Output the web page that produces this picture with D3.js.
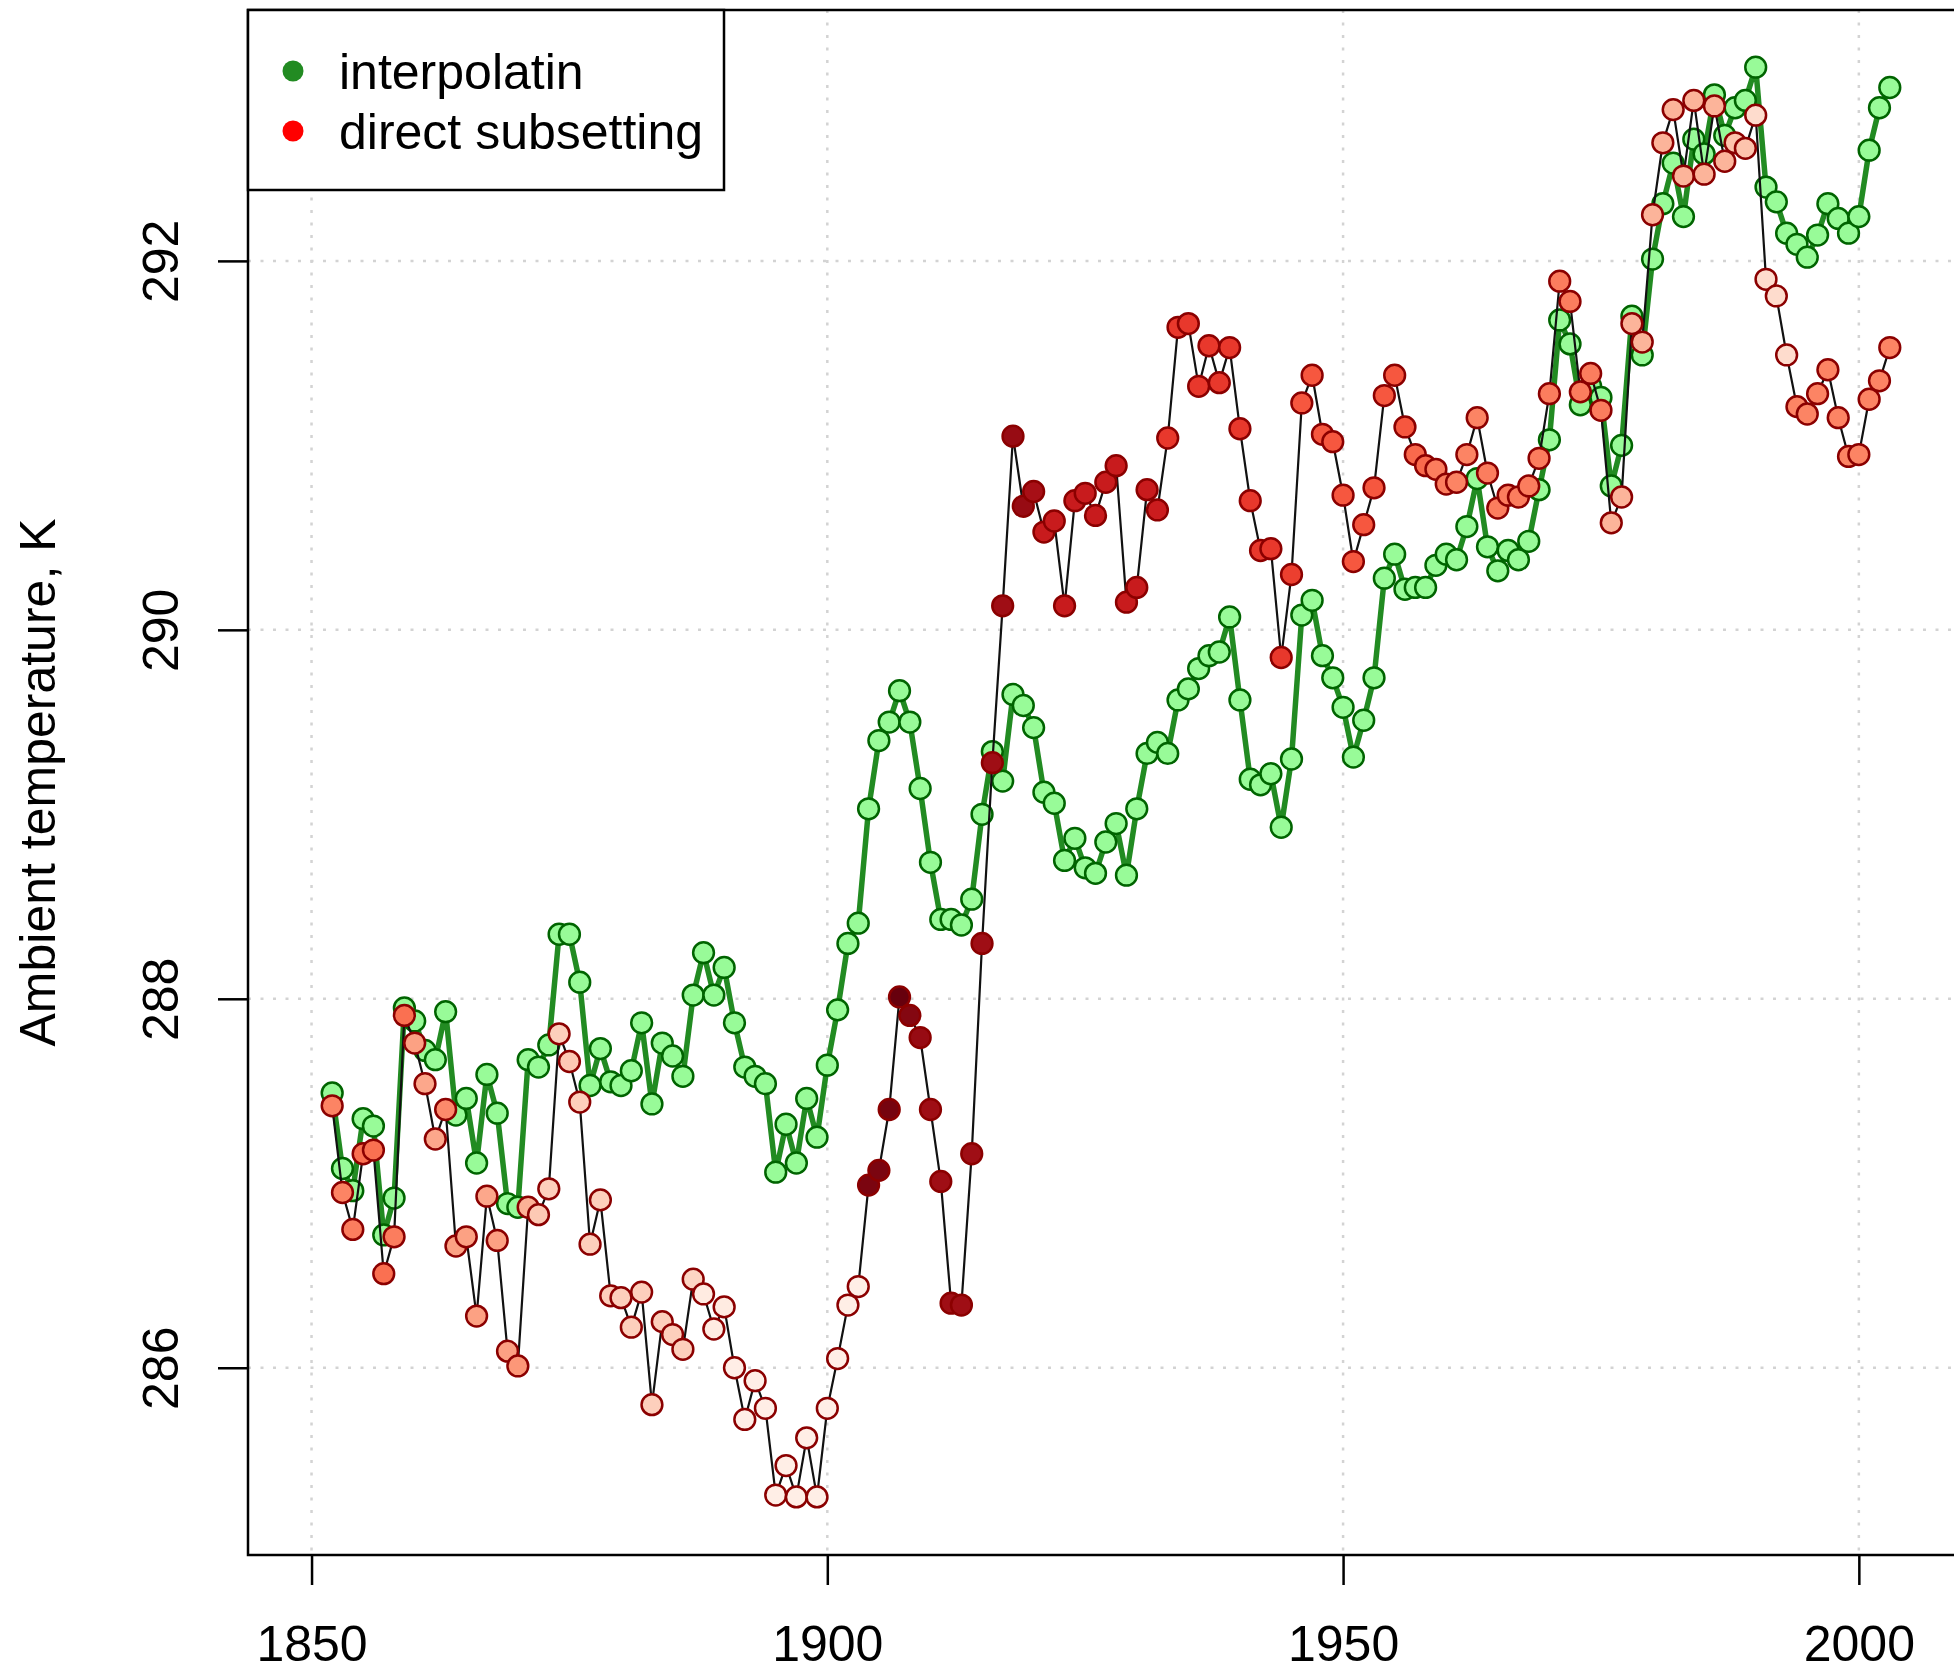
<!DOCTYPE html>
<html>
<head>
<meta charset="utf-8">
<script src="https://cdn.jsdelivr.net/npm/d3@7"></script>
<style>
  body { margin: 0; background: #fff; }
  svg { display: block; font-family: "Liberation Sans", Arial, Helvetica, sans-serif; }
</style>
</head>
<body>
<svg id="chart" width="1954" height="1671"></svg>
<script>
// years 1852..2003, rows: 1852-1859, then one decade per row
const years = [
    1852, 1853, 1854, 1855, 1856, 1857, 1858, 1859,
    1860, 1861, 1862, 1863, 1864, 1865, 1866, 1867, 1868, 1869,
    1870, 1871, 1872, 1873, 1874, 1875, 1876, 1877, 1878, 1879,
    1880, 1881, 1882, 1883, 1884, 1885, 1886, 1887, 1888, 1889,
    1890, 1891, 1892, 1893, 1894, 1895, 1896, 1897, 1898, 1899,
    1900, 1901, 1902, 1903, 1904, 1905, 1906, 1907, 1908, 1909,
    1910, 1911, 1912, 1913, 1914, 1915, 1916, 1917, 1918, 1919,
    1920, 1921, 1922, 1923, 1924, 1925, 1926, 1927, 1928, 1929,
    1930, 1931, 1932, 1933, 1934, 1935, 1936, 1937, 1938, 1939,
    1940, 1941, 1942, 1943, 1944, 1945, 1946, 1947, 1948, 1949,
    1950, 1951, 1952, 1953, 1954, 1955, 1956, 1957, 1958, 1959,
    1960, 1961, 1962, 1963, 1964, 1965, 1966, 1967, 1968, 1969,
    1970, 1971, 1972, 1973, 1974, 1975, 1976, 1977, 1978, 1979,
    1980, 1981, 1982, 1983, 1984, 1985, 1986, 1987, 1988, 1989,
    1990, 1991, 1992, 1993, 1994, 1995, 1996, 1997, 1998, 1999,
    2000, 2001, 2002, 2003
];

const interpolatin = [
    287.49, 287.08, 286.96, 287.35, 287.31, 286.72, 286.92, 287.95,
    287.88, 287.72, 287.67, 287.93, 287.37, 287.46, 287.11, 287.59, 287.38, 286.89,
    286.87, 287.67, 287.63, 287.75, 288.35, 288.35, 288.09, 287.53, 287.73, 287.55,
    287.53, 287.61, 287.87, 287.43, 287.76, 287.69, 287.58, 288.02, 288.25, 288.02,
    288.17, 287.87, 287.63, 287.58, 287.54, 287.06, 287.32, 287.11, 287.46, 287.25,
    287.64, 287.94, 288.30, 288.41, 289.03, 289.40, 289.50, 289.67, 289.50, 289.14,
    288.74, 288.43, 288.43, 288.40, 288.54, 289.00, 289.34, 289.18, 289.65, 289.59,
    289.47, 289.12, 289.06, 288.75, 288.87, 288.71, 288.68, 288.85, 288.95, 288.67,
    289.03, 289.33, 289.39, 289.33, 289.62, 289.68, 289.79, 289.86, 289.88, 290.07,
    289.62, 289.19, 289.16, 289.22, 288.93, 289.30, 290.08, 290.16, 289.86, 289.74,
    289.58, 289.31, 289.51, 289.74, 290.28, 290.41, 290.22, 290.23, 290.23, 290.35,
    290.41, 290.38, 290.56, 290.82, 290.45, 290.32, 290.43, 290.38, 290.48, 290.76,
    291.03, 291.68, 291.55, 291.22, 291.32, 291.26, 290.78, 291.00, 291.70, 291.49,
    292.01, 292.31, 292.53, 292.24, 292.66, 292.58, 292.90, 292.68, 292.83, 292.87,
    293.05, 292.40, 292.32, 292.15, 292.09, 292.02, 292.14, 292.31, 292.23, 292.15,
    292.24, 292.60, 292.83, 292.94
];

const directSubsetting = [
    287.42, 286.95, 286.75, 287.16, 287.18, 286.51, 286.71, 287.91,
    287.76, 287.54, 287.24, 287.40, 286.66, 286.71, 286.28, 286.93, 286.69, 286.09,
    286.01, 286.87, 286.83, 286.97, 287.81, 287.66, 287.44, 286.67, 286.91, 286.39,
    286.38, 286.22, 286.41, 285.80, 286.25, 286.18, 286.10, 286.48, 286.40, 286.21,
    286.33, 286.00, 285.72, 285.93, 285.78, 285.31, 285.47, 285.30, 285.62, 285.30,
    285.78, 286.05, 286.34, 286.44, 286.99, 287.07, 287.40, 288.01, 287.91, 287.79,
    287.40, 287.01, 286.35, 286.34, 287.16, 288.30, 289.28, 290.13, 291.05, 290.67,
    290.75, 290.53, 290.59, 290.13, 290.70, 290.74, 290.62, 290.80, 290.89, 290.15,
    290.23, 290.76, 290.65, 291.04, 291.64, 291.66, 291.32, 291.54, 291.34, 291.53,
    291.09, 290.70, 290.43, 290.44, 289.85, 290.30, 291.23, 291.38, 291.06, 291.02,
    290.73, 290.37, 290.57, 290.77, 291.27, 291.38, 291.10, 290.95, 290.89, 290.87,
    290.79, 290.80, 290.95, 291.15, 290.85, 290.66, 290.73, 290.72, 290.78, 290.93,
    291.28, 291.89, 291.78, 291.29, 291.39, 291.19, 290.58, 290.72, 291.66, 291.56,
    292.25, 292.64, 292.82, 292.46, 292.87, 292.47, 292.84, 292.54, 292.64, 292.61,
    292.79, 291.90, 291.81, 291.49, 291.21, 291.17, 291.28, 291.41, 291.15, 290.94,
    290.95, 291.25, 291.35, 291.53
];

// fill intensity of each "direct subsetting" point (0 = palest, 1 = darkest red)
const directShade = [
    .42, .42, .44, .48, .48, .48, .44, .48,
    .33, .31, .31, .40, .33, .33, .33, .31, .33, .33,
    .36, .28, .2, .18, .18, .2, .18, .18, .18, .18,
    .18, .18, .18, .18, .18, .18, .18, .16, .06, .06,
    .06, .04, .04, .04, .04, .04, .04, .04, .04, .04,
    .04, .04, .04, .04, .96, .96, .97, 1, .94, .9,
    .88, .88, .88, .88, .88, .88, .88, .88, .9, .9,
    .86, .76, .76, .76, .76, .76, .76, .76, .76, .76,
    .76, .76, .75, .64, .64, .64, .64, .64, .64, .64,
    .64, .64, .64, .64, .64, .62, .55, .55, .55, .55,
    .55, .55, .55, .55, .55, .55, .55, .5, .5, .44,
    .44, .42, .42, .42, .44, .44, .44, .44, .44, .44,
    .44, .44, .44, .44, .44, .44, .27, .27, .27, .27,
    .27, .27, .27, .27, .27, .27, .27, .27, .22, .22,
    .13, .13, .13, .13, .42, .42, .42, .42, .42, .42,
    .42, .42, .42, .42
];

const xTicks = [1850, 1900, 1950, 2000];
const yTicks = [286, 288, 290, 292];
const legendLabels = ["interpolatin", "direct subsetting"];
const legendColors = ["#228B22", "#FF0000"];
const yTitle = "Ambient temperature, K";


const plot = {left: 248, top: 10, right: 1962, bottom: 1555};
const fontSize = 50;
const pointR = 10.4;

const svg = d3.select("#chart");

const x = d3.scaleLinear()
    .domain([1843.84, 2010])
    .range([plot.left, plot.right]);

const y = d3.scaleLinear()
    .domain([284.985, 293.36])
    .range([plot.bottom, plot.top]);

const greenData = years.map((yr, i) => ({year: yr, value: interpolatin[i]}));
const redData = years.map((yr, i) => ({year: yr, value: directSubsetting[i], shade: directShade[i]}));


// dotted grid
const grid = svg.append("g")
    .attr("stroke", "#D3D3D3")
    .attr("stroke-width", 2.5)
    .attr("stroke-dasharray", "3,9.5");

grid.selectAll(".vgrid")
    .data(xTicks)
    .enter()
    .append("line")
    .attr("x1", d => x(d))
    .attr("x2", d => x(d))
    .attr("y1", plot.top)
    .attr("y2", plot.bottom);

grid.selectAll(".hgrid")
    .data(yTicks)
    .enter()
    .append("line")
    .attr("x1", plot.left)
    .attr("x2", plot.right)
    .attr("y1", d => y(d))
    .attr("y2", d => y(d));


// axes
const xAxis = svg.append("g")
    .attr("transform", `translate(0,${plot.bottom})`)
    .call(d3.axisBottom(x).tickValues(xTicks).tickSize(30).tickPadding(40).tickFormat(d3.format("d")));

const yAxis = svg.append("g")
    .attr("transform", `translate(${plot.left},0)`)
    .call(d3.axisLeft(y).tickValues(yTicks).tickSize(30).tickFormat(d3.format("d")));

[xAxis, yAxis].forEach(ax => {
    ax.select(".domain").remove();
    ax.selectAll(".tick line").attr("stroke", "#000").attr("stroke-width", 2.5);
    ax.selectAll(".tick text")
        .attr("fill", "#000")
        .style("font-size", fontSize + "px")
        .style("font-family", "'Liberation Sans', Arial, sans-serif");
});

yAxis.selectAll(".tick text")
    .attr("x", null)
    .attr("dy", null)
    .attr("text-anchor", "middle")
    .attr("transform", "translate(-70,0) rotate(-90)");

svg.append("text")
    .attr("transform", `translate(55,${(plot.top + plot.bottom) / 2}) rotate(-90)`)
    .attr("text-anchor", "middle")
    .style("font-size", fontSize + "px")
    .text(yTitle);


// interpolatin series
const line = d3.line()
    .x(d => x(d.year))
    .y(d => y(d.value));

svg.append("path")
    .datum(greenData)
    .attr("fill", "none")
    .attr("stroke", "#228B22")
    .attr("stroke-width", 5.5)
    .attr("stroke-linejoin", "round")
    .attr("d", line);

svg.append("g")
    .selectAll("circle")
    .data(greenData)
    .enter()
    .append("circle")
    .attr("cx", d => x(d.year))
    .attr("cy", d => y(d.value))
    .attr("r", pointR)
    .attr("fill", "#98FB98")
    .attr("stroke", "#006400")
    .attr("stroke-width", 2.5);


// direct subsetting series
svg.append("path")
    .datum(redData)
    .attr("fill", "none")
    .attr("stroke", "#111")
    .attr("stroke-width", 2.2)
    .attr("d", line);

svg.append("g")
    .selectAll("circle")
    .data(redData)
    .enter()
    .append("circle")
    .attr("cx", d => x(d.year))
    .attr("cy", d => y(d.value))
    .attr("r", pointR)
    .attr("fill", d => d3.interpolateReds(d.shade))
    .attr("stroke", "#8B0000")
    .attr("stroke-width", 2.5);


// plot box
svg.append("rect")
    .attr("x", plot.left)
    .attr("y", plot.top)
    .attr("width", plot.right - plot.left)
    .attr("height", plot.bottom - plot.top)
    .attr("fill", "none")
    .attr("stroke", "#000")
    .attr("stroke-width", 2.5);


// legend
const legend = svg.append("g");

legend.append("rect")
    .attr("x", plot.left)
    .attr("y", plot.top)
    .attr("width", 724 - plot.left)
    .attr("height", 190 - plot.top)
    .attr("fill", "#fff")
    .attr("stroke", "#000")
    .attr("stroke-width", 2.5);

const rows = legend.selectAll(".row")
    .data(legendLabels)
    .enter()
    .append("g")
    .attr("class", "row")
    .attr("transform", (d, i) => `translate(0,${71 + i * 60})`);

rows.append("circle")
    .attr("cx", 293)
    .attr("r", 10.5)
    .attr("fill", (d, i) => legendColors[i]);

rows.append("text")
    .attr("x", 339)
    .attr("y", 18)
    .style("font-size", fontSize + "px")
    .text(d => d);
</script>
</body>
</html>
